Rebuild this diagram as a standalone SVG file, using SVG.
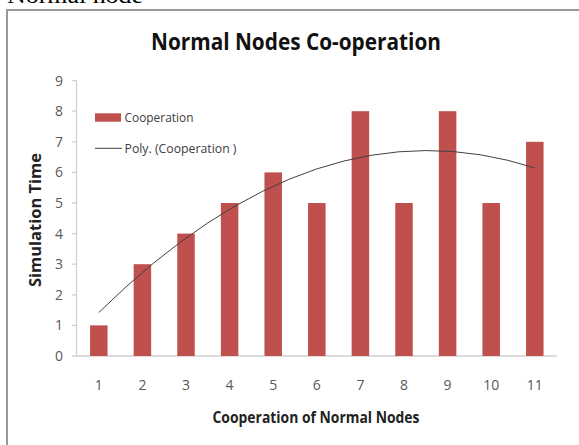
<svg xmlns="http://www.w3.org/2000/svg" width="579" height="445" viewBox="0 0 579 445">
<style>
.bar{fill:#C0504D}
.tick{font-family:"Open Sans","Liberation Sans",sans-serif;font-size:14px;fill:#595959}
.ytick{text-anchor:end}
.xtick{text-anchor:middle}
.axis{stroke:#d0d0d0;stroke-width:1.3;fill:none}
.lg{font-family:"Open Sans","Liberation Sans",sans-serif;font-size:12.5px;fill:#404040}
.lbl{font-family:"Open Sans","Liberation Sans",sans-serif;font-weight:bold;font-size:15.5px;fill:#222}
</style>
<rect width="579" height="445" fill="#fff"/>
<text x="7" y="3" font-family="'Liberation Serif','Times New Roman',serif" font-size="24" fill="#000" textLength="136" lengthAdjust="spacingAndGlyphs">Normal node</text>
<path d="M7 445 V10 H579" fill="none" stroke="#9a9a9a" stroke-width="2"/>
<g id="title"><text x="151" y="50" font-family="'Open Sans','Liberation Sans',sans-serif" font-weight="bold" font-size="24" fill="#111" textLength="290" lengthAdjust="spacingAndGlyphs">Normal Nodes Co-operation</text></g>
<g id="axes">
<line class="axis" x1="76.5" y1="80.6" x2="76.5" y2="356"/>
<line class="axis" x1="72" y1="356" x2="557" y2="356"/>
<path class="axis" d="M72 80.6H76.5M72 111.2H76.5M72 141.8H76.5M72 172.4H76.5M72 203H76.5M72 233.6H76.5M72 264.2H76.5M72 294.8H76.5M72 325.4H76.5"/>
<g class="tick ytick">
<text x="63" y="361">0</text>
<text x="63" y="330.4">1</text>
<text x="63" y="299.8">2</text>
<text x="63" y="269.2">3</text>
<text x="63" y="238.6">4</text>
<text x="63" y="208">5</text>
<text x="63" y="177.4">6</text>
<text x="63" y="146.8">7</text>
<text x="63" y="116.2">8</text>
<text x="63" y="85.6">9</text>
</g>
<g class="tick xtick">
<text x="98.8" y="390">1</text>
<text x="142.4" y="390">2</text>
<text x="186" y="390">3</text>
<text x="229.6" y="390">4</text>
<text x="273.2" y="390">5</text>
<text x="316.8" y="390">6</text>
<text x="360.4" y="390">7</text>
<text x="404" y="390">8</text>
<text x="447.6" y="390">9</text>
<text x="491.2" y="390">10</text>
<text x="534.8" y="390">11</text>
</g>
<text class="lbl" x="316" y="423" text-anchor="middle" textLength="207" lengthAdjust="spacingAndGlyphs">Cooperation of Normal Nodes</text>
<text class="lbl" transform="translate(41 220) rotate(-90)" text-anchor="middle" textLength="134" lengthAdjust="spacingAndGlyphs">Simulation Time</text>
</g>
<g id="bars">
<rect class="bar" x="90.05" y="325.4" width="17.5" height="30.6"/>
<rect class="bar" x="133.65" y="264.2" width="17.5" height="91.8"/>
<rect class="bar" x="177.25" y="233.6" width="17.5" height="122.4"/>
<rect class="bar" x="220.85" y="203" width="17.5" height="153"/>
<rect class="bar" x="264.45" y="172.4" width="17.5" height="183.6"/>
<rect class="bar" x="308.05" y="203" width="17.5" height="153"/>
<rect class="bar" x="351.65" y="111.2" width="17.5" height="244.8"/>
<rect class="bar" x="395.25" y="203" width="17.5" height="153"/>
<rect class="bar" x="438.85" y="111.2" width="17.5" height="244.8"/>
<rect class="bar" x="482.45" y="203" width="17.5" height="153"/>
<rect class="bar" x="526.05" y="141.8" width="17.5" height="214.2"/>
</g>
<g id="connectors">
<path d="M98.8 312.56 Q316.8 97.58 534.8 167.9" fill="none" stroke="#404040" stroke-width="1"/>
</g>
<g id="legend">
<rect class="bar" x="95" y="113.3" width="26" height="8.4"/>
<text class="lg" x="124.5" y="122" textLength="69" lengthAdjust="spacingAndGlyphs">Cooperation</text>
<line x1="95" y1="148.3" x2="122" y2="148.3" stroke="#404040" stroke-width="1"/>
<text class="lg" x="124.5" y="152.5" textLength="112" lengthAdjust="spacingAndGlyphs">Poly. (Cooperation )</text>
</g>
</svg>
